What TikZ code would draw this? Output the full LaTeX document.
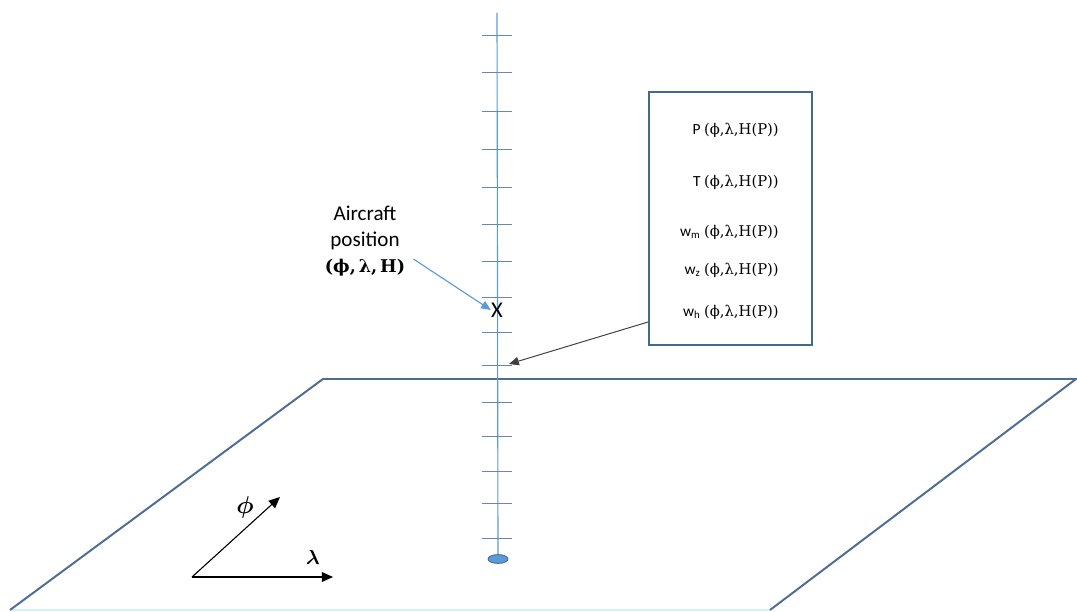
\documentclass[tikz,border=0pt]{standalone}
\usepackage{fontspec}
\setmainfont{Carlito}
\newfontfamily\grkfont{DejaVu Serif}
\usepackage{amsmath}
\usepackage{xcolor}
\definecolor{planeblue}{RGB}{79,108,148}
\definecolor{axisblue}{RGB}{91,155,213}
\definecolor{tickblue}{RGB}{105,135,175}
\definecolor{boxblue}{RGB}{65,105,145}
\definecolor{edgecyan}{RGB}{212,240,250}
\definecolor{pointergray}{RGB}{64,64,64}
\usetikzlibrary{arrows.meta, shapes.geometric}

\begin{document}
\begin{tikzpicture}[x=0.025cm, y=-0.025cm, every node/.style={inner sep=0pt},
  tickmark/.style={draw=tickblue, line width=0.7pt},
  dataline/.style={anchor=east, font=\fontsize{11}{13}\selectfont}]
  \useasboundingbox (0,0) rectangle (1077,611);

  % Ground plane
  \draw[edgecyan, line width=1.4pt] (10,610) -- (770,610);
  \draw[planeblue, line width=1.4pt] (10,610) -- (323,379) -- (1076,379) -- (770,610);

  % Vertical axis with ticks
  \coordinate (top) at (497,13);
  \node[ellipse, draw=boxblue, fill=axisblue, line width=0.6pt, minimum width=0.5cm, minimum height=0.22cm] (base) at (498,559) {};
  \draw[axisblue, line width=0.8pt] (top) -- (base.north);
  \foreach \y in {35,72,111,149,187,224,261,297,332,365,402,436,471,503,538}
    \draw[tickmark] (482,\y) -- (512,\y);

  % Aircraft
  \node[font=\fontsize{16}{16}\selectfont] (ac) at (497,310) {X};
  \node[align=center, font=\fontsize{15}{18.5}\selectfont] (aclabel) at (365,241) {Aircraft\\position\\{\grkfont\bfseries\fontsize{12.5}{14}\selectfont (ϕ,\,λ,\,H)}};
  \draw[axisblue, line width=0.8pt, -{Triangle[length=7pt, width=6pt]}] ([xshift=0.2cm, yshift=-0.45cm]aclabel.east) -- (ac.west);

  % Data box
  \node[draw=boxblue, line width=1.4pt, minimum width=4.075cm, minimum height=6.325cm] (info) at (730.5,218.5) {};
  \node[dataline] (pline) at (779,130) {P {\grkfont\fontsize{10.5}{13}\selectfont(ϕ,λ,H(P))}};
  \node[dataline] (tline) at (779,182) {T {\grkfont\fontsize{10.5}{13}\selectfont(ϕ,λ,H(P))}};
  \node[dataline] (wmline) at (779,232) {w\textsubscript{m} {\grkfont\fontsize{10.5}{13}\selectfont(ϕ,λ,H(P))}};
  \node[dataline] (wzline) at (779,270) {w\textsubscript{z} {\grkfont\fontsize{10.5}{13}\selectfont(ϕ,λ,H(P))}};
  \node[dataline] (whline) at (779,312) {w\textsubscript{h} {\grkfont\fontsize{10.5}{13}\selectfont(ϕ,λ,H(P))}};
  \coordinate (tip) at (509,364);
  \draw[pointergray, line width=0.7pt, -{Triangle[length=7pt, width=6pt]}] (info.west |- 0,322) -- (tip);

  % Direction arrows
  \coordinate (orig) at (192,577);
  \coordinate (phiend) at (280,497);
  \coordinate (lamend) at (333,577);
  \draw[line width=0.8pt, -{Triangle[length=8pt, width=7pt]}] (orig) -- (phiend);
  \draw[line width=0.8pt, -{Triangle[length=8pt, width=7pt]}] (orig) -- (lamend);
  \node[font=\fontsize{17}{17}\selectfont] (philabel) at (245,507) {$\boldsymbol{\phi}$};
  \node[font=\fontsize{14}{14}\selectfont] (lamlabel) at (313,557) {$\boldsymbol{\lambda}$};
\end{tikzpicture}
\end{document}
